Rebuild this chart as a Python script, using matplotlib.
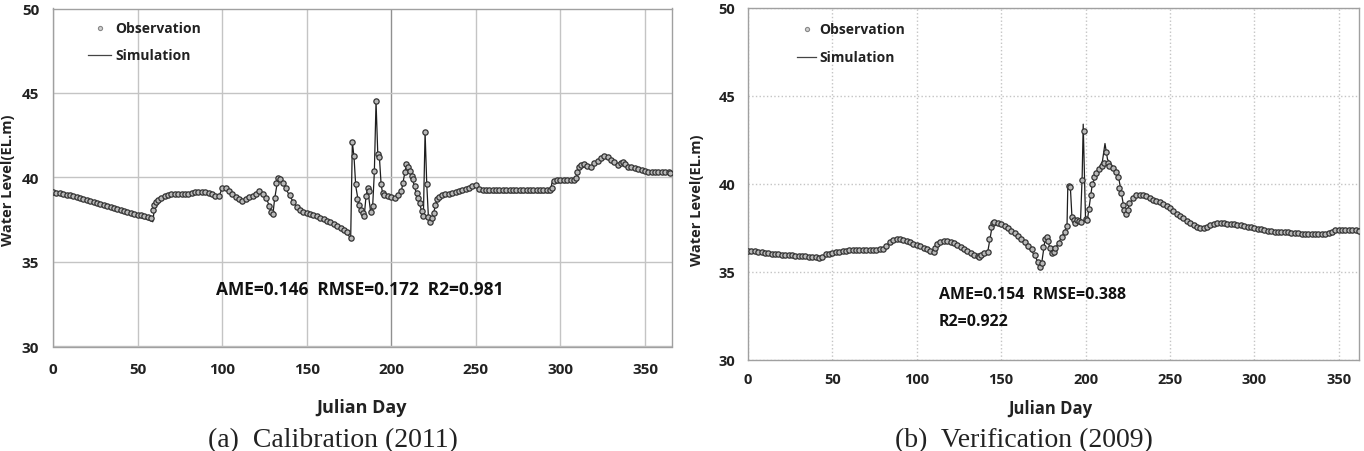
import matplotlib
matplotlib.use("Agg")
import matplotlib.pyplot as plt

# ---------------- data: (a) Calibration 2011 ----------------
obs_days_2011 = [0, 2, 4, 6, 8, 10, 12, 14, 16, 18, 20, 22, 24, 26, 28, 30, 32, 34, 36, 38,
                 40, 42, 44, 46, 48, 50, 52, 54, 56, 58, 59, 60, 61, 62, 64, 66, 68, 70, 72, 74,
                 76, 78, 80, 82, 84, 86, 88, 90, 92, 94, 96, 98, 100, 102, 104, 106, 108, 110, 112, 114,
                 116, 118, 120, 122, 124, 126, 128, 129, 130, 131, 132, 133, 134, 136, 138, 140, 142, 144, 146, 148,
                 150, 152, 154, 156, 158, 160, 162, 164, 166, 168, 170, 172, 174, 176, 177, 178, 179, 180, 181, 182,
                 183, 184, 185, 186, 187, 188, 189, 190, 191, 192, 193, 194, 195, 196, 198, 200, 202, 204, 206, 207,
                 208, 209, 210, 211, 212, 213, 214, 215, 216, 217, 218, 219, 220, 221, 222, 223, 224, 225, 226, 227,
                 228, 230, 232, 234, 236, 238, 240, 242, 244, 246, 248, 250, 252, 254, 256, 258, 260, 262, 264, 266,
                 268, 270, 272, 274, 276, 278, 280, 282, 284, 286, 288, 290, 292, 294, 295, 296, 298, 300, 302, 304,
                 306, 308, 309, 310, 311, 312, 314, 316, 318, 320, 322, 324, 326, 328, 330, 332, 334, 336, 337, 338,
                 340, 342, 344, 346, 348, 350, 352, 354, 356, 358, 360, 362, 364, 365]
obs_level_2011 = [39.15, 39.11, 39.07, 39.03, 38.99, 38.94, 38.89, 38.84, 38.78, 38.72, 38.66, 38.60, 38.54, 38.48, 38.42, 38.36, 38.30, 38.24, 38.18, 38.12,
                  38.06, 38.00, 37.94, 37.89, 37.84, 37.80, 37.76, 37.72, 37.68, 37.62, 38.10, 38.35, 38.55, 38.65, 38.80, 38.92, 38.98, 39.00, 39.00, 39.00,
                  39.02, 39.02, 39.05, 39.08, 39.12, 39.15, 39.15, 39.12, 39.08, 39.02, 38.90, 38.90, 39.38, 39.35, 39.18, 39.02, 38.85, 38.70, 38.62, 38.70,
                  38.82, 38.92, 39.05, 39.22, 39.05, 38.80, 38.30, 37.95, 37.85, 38.80, 39.70, 39.95, 39.90, 39.70, 39.35, 38.95, 38.55, 38.25, 38.08, 37.98,
                  37.92, 37.85, 37.78, 37.70, 37.62, 37.54, 37.45, 37.35, 37.25, 37.15, 37.02, 36.90, 36.75, 36.40, 42.10, 41.30, 39.60, 38.70, 38.35, 38.10,
                  37.90, 37.75, 38.90, 39.40, 39.20, 37.95, 38.30, 40.40, 44.50, 41.40, 41.20, 39.60, 39.10, 38.95, 38.90, 38.85, 38.80, 38.95, 39.20, 39.70,
                  40.30, 40.80, 40.60, 40.40, 40.10, 39.90, 39.50, 39.10, 38.80, 38.50, 38.00, 37.70, 42.70, 39.60, 37.65, 37.35, 37.60, 37.90, 38.40, 38.70,
                  38.85, 38.95, 39.00, 39.05, 39.10, 39.15, 39.20, 39.25, 39.30, 39.40, 39.50, 39.55, 39.30, 39.27, 39.27, 39.27, 39.28, 39.28, 39.28, 39.28,
                  39.27, 39.27, 39.27, 39.27, 39.27, 39.28, 39.28, 39.27, 39.27, 39.27, 39.27, 39.28, 39.28, 39.28, 39.35, 39.80, 39.85, 39.85, 39.85, 39.85,
                  39.86, 39.86, 39.95, 40.35, 40.60, 40.75, 40.80, 40.70, 40.60, 40.85, 41.00, 41.15, 41.25, 41.20, 41.05, 40.90, 40.75, 40.85, 40.90, 40.80,
                  40.65, 40.60, 40.55, 40.50, 40.45, 40.40, 40.35, 40.33, 40.32, 40.30, 40.30, 40.30, 40.30, 40.28]

sim_days_2011 = [0, 10, 20, 30, 40, 50, 56, 59, 60, 62, 66, 70, 80, 86, 92, 96, 98, 100, 103, 108,
                 112, 118, 122, 126, 130, 131, 133, 136, 140, 145, 150, 160, 170, 175, 176, 177, 178, 179, 181, 184,
                 185, 186, 188, 189, 190, 191, 192, 193, 194, 195, 200, 204, 206, 209, 212, 215, 219, 220, 221, 222,
                 223, 225, 227, 230, 240, 248, 250, 252, 256, 294, 295, 309, 310, 312, 316, 318, 322, 326, 330, 334,
                 337, 340, 350, 365]
sim_level_2011 = [39.10, 38.88, 38.60, 38.30, 37.98, 37.68, 37.52, 37.38, 38.20, 38.60, 38.88, 38.95, 39.00, 39.12, 39.05, 38.85, 38.85, 39.35, 39.25, 38.85,
                  38.60, 38.90, 39.20, 38.80, 37.80, 38.70, 39.95, 39.65, 38.90, 38.10, 37.88, 37.50, 37.00, 36.55, 36.30, 42.10, 41.20, 39.50, 38.30, 37.70,
                  38.80, 39.40, 37.80, 38.30, 40.30, 44.50, 41.50, 41.20, 39.60, 39.00, 38.80, 38.90, 39.20, 40.80, 40.10, 39.00, 37.70, 42.70, 39.60, 37.60,
                  37.30, 37.90, 38.65, 38.90, 39.15, 39.45, 39.50, 39.20, 39.10, 39.10, 39.68, 39.72, 40.25, 40.70, 40.65, 40.55, 40.95, 41.20, 41.00, 40.70,
                  40.85, 40.60, 40.35, 40.25]

# ---------------- data: (b) Verification 2009 ----------------
obs_days_2009 = [0, 2, 4, 6, 8, 10, 12, 14, 16, 18, 20, 22, 24, 26, 28, 30, 32, 34, 36, 38,
                 40, 42, 44, 46, 48, 50, 52, 54, 56, 58, 60, 62, 64, 66, 68, 70, 72, 74, 76, 78,
                 80, 82, 84, 86, 88, 90, 92, 94, 96, 98, 100, 102, 104, 106, 108, 110, 111, 112, 114, 116,
                 118, 120, 122, 124, 126, 128, 130, 132, 134, 136, 137, 138, 140, 142, 143, 144, 145, 146, 148, 150,
                 152, 154, 156, 158, 160, 162, 164, 166, 168, 170, 172, 173, 174, 175, 176, 177, 178, 179, 180, 181,
                 182, 184, 186, 188, 189, 190, 191, 192, 193, 194, 195, 196, 197, 198, 199, 200, 201, 202, 203, 204,
                 205, 206, 208, 210, 211, 212, 213, 214, 216, 218, 219, 220, 221, 222, 223, 224, 225, 226, 228, 230,
                 232, 234, 236, 238, 240, 242, 244, 246, 248, 250, 252, 254, 256, 258, 260, 262, 264, 266, 268, 270,
                 272, 274, 276, 278, 280, 282, 284, 286, 288, 290, 292, 294, 296, 298, 300, 302, 304, 306, 308, 310,
                 312, 314, 316, 318, 320, 322, 324, 326, 328, 330, 332, 334, 336, 338, 340, 342, 344, 346, 348, 350,
                 352, 354, 356, 358, 360, 362]
obs_level_2009 = [36.20, 36.18, 36.17, 36.15, 36.12, 36.10, 36.07, 36.05, 36.02, 36.00, 35.99, 35.98, 35.97, 35.95, 35.93, 35.92, 35.90, 35.89, 35.87, 35.85,
                  35.83, 35.80, 35.85, 36.00, 36.05, 36.10, 36.13, 36.16, 36.19, 36.22, 36.24, 36.26, 36.27, 36.27, 36.27, 36.26, 36.25, 36.25, 36.27, 36.28,
                  36.32, 36.50, 36.70, 36.82, 36.86, 36.85, 36.80, 36.74, 36.68, 36.60, 36.53, 36.46, 36.38, 36.30, 36.20, 36.12, 36.35, 36.58, 36.72, 36.76,
                  36.75, 36.72, 36.64, 36.54, 36.44, 36.33, 36.21, 36.09, 35.98, 35.90, 35.87, 35.95, 36.10, 36.15, 36.90, 37.55, 37.80, 37.82, 37.78, 37.70,
                  37.60, 37.48, 37.35, 37.20, 37.05, 36.88, 36.70, 36.50, 36.28, 35.95, 35.55, 35.30, 35.50, 36.40, 36.85, 37.00, 36.75, 36.35, 36.08, 36.15,
                  36.35, 36.65, 37.00, 37.30, 37.60, 39.90, 39.85, 38.10, 37.95, 37.80, 37.95, 37.90, 37.85, 40.20, 43.00, 38.00, 37.95, 38.60, 39.40, 40.00,
                  40.40, 40.65, 40.85, 41.00, 41.20, 41.80, 41.20, 41.00, 40.90, 40.70, 40.40, 39.80, 39.50, 38.80, 38.50, 38.30, 38.55, 38.90, 39.20, 39.35,
                  39.40, 39.38, 39.30, 39.20, 39.10, 39.02, 38.95, 38.85, 38.75, 38.62, 38.48, 38.32, 38.18, 38.05, 37.92, 37.80, 37.68, 37.58, 37.50, 37.48,
                  37.55, 37.65, 37.75, 37.78, 37.78, 37.77, 37.75, 37.73, 37.70, 37.68, 37.65, 37.62, 37.58, 37.54, 37.50, 37.46, 37.42, 37.38, 37.35, 37.32,
                  37.30, 37.28, 37.27, 37.26, 37.25, 37.24, 37.22, 37.20, 37.18, 37.17, 37.16, 37.15, 37.15, 37.15, 37.15, 37.16, 37.20, 37.30, 37.36, 37.38,
                  37.38, 37.38, 37.38, 37.37, 37.36, 37.35]

sim_days_2009 = [0, 20, 43, 46, 60, 80, 84, 90, 100, 110, 112, 118, 130, 137, 142, 145, 150, 160, 170, 173,
                 174, 176, 177, 180, 186, 189, 189.5, 191, 192, 197, 198, 198.6, 200, 201, 204, 208, 210, 211.5, 213, 216,
                 219, 221, 223, 224, 226, 230, 240, 250, 260, 268, 272, 278, 290, 300, 320, 340, 344, 347, 362]
sim_level_2009 = [36.18, 35.98, 35.78, 35.98, 36.22, 36.30, 36.68, 36.84, 36.50, 36.10, 36.55, 36.74, 36.18, 35.83, 36.12, 37.80, 37.70, 37.05, 35.95, 35.25,
                  35.50, 36.85, 36.98, 36.00, 37.00, 37.60, 39.95, 39.80, 38.00, 37.85, 40.50, 43.40, 37.90, 37.90, 40.00, 40.90, 41.30, 42.30, 41.40, 41.00,
                  40.70, 39.60, 38.50, 38.25, 38.90, 39.35, 39.10, 38.62, 37.92, 37.48, 37.55, 37.78, 37.68, 37.50, 37.25, 37.14, 37.18, 37.35, 37.35]

y_ticks = [30, 35, 40, 45, 50]
x_ticks = [0, 50, 100, 150, 200, 250, 300, 350]

SANS = ['Open Sans', 'DejaVu Sans']
SERIF = ['Liberation Serif', 'DejaVu Serif']

W, H = 1364, 452
fig = plt.figure(figsize=(W / 100, H / 100), dpi=100)


def rect(l, t, r, b):
    return [l / W, 1 - b / H, (r - l) / W, (b - t) / H]


def panel(ax, xmax, odays, olev, sdays, slev, grid_ls, label_pad_x, label_pad_y,
          leg_pos, stats, tick_fs):
    ax.set_xlim(0, xmax)
    ax.set_ylim(30, 50)
    ax.set_xticks(x_ticks)
    ax.set_yticks(y_ticks)
    ax.tick_params(length=0, labelsize=tick_fs, pad=label_pad_x, axis='x')
    ax.tick_params(length=0, labelsize=tick_fs, pad=label_pad_y, axis='y')
    for lab in ax.get_xticklabels() + ax.get_yticklabels():
        lab.set_fontweight('bold')
        lab.set_family(SANS)
        lab.set_color('#222222')
    ax.grid(True, color='#c4c4c4', lw=1.0, ls=grid_ls)
    ax.set_axisbelow(True)
    for s in ax.spines.values():
        s.set_color('#a0a0a0')
        s.set_linewidth(1.0)
    ax.plot(sdays, slev, color='#1e1e1e', lw=0.9, zorder=3)
    ax.plot(odays, olev, ls='none', marker='o', ms=3.8, mfc='#b8b8b8',
            mec='#333333', mew=0.9, zorder=4)
    # legend
    (mx, my), (lx0, lx1, ly), tx = leg_pos
    ax.plot([mx], [my], transform=ax.transAxes, marker='o', ms=3.0, mfc='#d0d0d0',
            mec='#888888', mew=0.8, ls='none', clip_on=False)
    ax.plot([lx0, lx1], [ly, ly], transform=ax.transAxes, color='#444444', lw=0.9,
            clip_on=False)
    ax.text(tx, my, 'Observation', transform=ax.transAxes, va='center', ha='left',
            fontsize=10, fontweight='bold', family=SANS, color='#222222')
    ax.text(tx, ly, 'Simulation', transform=ax.transAxes, va='center', ha='left',
            fontsize=10, fontweight='bold', family=SANS, color='#222222')
    for (x, y, s, ha, fs) in stats:
        ax.text(x, y, s, transform=ax.transAxes, va='center', ha=ha, fontsize=fs,
                fontweight='bold', family=SANS, color='#111111')


ax1 = fig.add_axes(rect(53, 9.5, 672, 347.5))
panel(ax1, 366, obs_days_2011, obs_level_2011, sim_days_2011, sim_level_2011, '-',
      11, 10,
      ((0.076, 0.942), (0.0565, 0.094, 0.862), 0.100),
      [(0.496, 0.170, 'AME=0.146  RMSE=0.172  R2=0.981', 'center', 12.5)], 11)
ax1.get_xgridlines()[4].set_color('#909090')

ax2 = fig.add_axes(rect(748, 9, 1359, 361))
panel(ax2, 362, obs_days_2009, obs_level_2009, sim_days_2009, sim_level_2009, ':',
      9, 9,
      ((0.0966, 0.940), (0.080, 0.112, 0.861), 0.116),
      [(0.3126, 0.1875, 'AME=0.154  RMSE=0.388', 'left', 11.5),
       (0.3126, 0.111, 'R2=0.922', 'left', 11.5)], 10.5)

# axis labels
fig.text(362 / W, 1 - 408 / H, 'Julian Day', ha='center', va='center', fontsize=13,
         fontweight='bold', family=SANS, color='#222222')
fig.text(1050 / W, 1 - 409 / H, 'Julian Day', ha='center', va='center', fontsize=12,
         fontweight='bold', family=SANS, color='#222222')
fig.text(8 / W, 1 - 180 / H, 'Water Level(EL.m)', ha='center', va='center', rotation=90,
         fontsize=10.5, fontweight='bold', family=SANS, color='#222222')
fig.text(697 / W, 1 - 200 / H, 'Water Level(EL.m)', ha='center', va='center', rotation=90,
         fontsize=10.5, fontweight='bold', family=SANS, color='#222222')

# captions
fig.text(333 / W, 1 - 441 / H, '(a)  Calibration (2011)', ha='center', va='center',
         fontsize=20, family=SERIF, color='#222222')
fig.text(1024 / W, 1 - 441 / H, '(b)  Verification (2009)', ha='center', va='center',
         fontsize=20, family=SERIF, color='#222222')

fig.savefig('out.png', dpi=100)
